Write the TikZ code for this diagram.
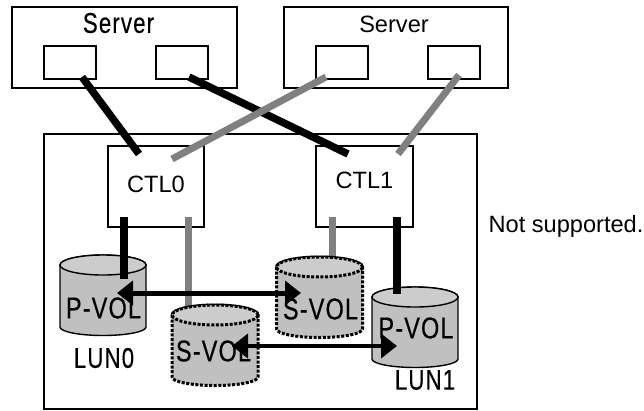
\documentclass[tikz,border=0pt]{standalone}
\usepackage{fontspec}
\setmainfont{Liberation Sans}
\newfontfamily\gothfont[FakeStretch=0.78,LetterSpace=4,FakeBold=0.35]{Liberation Sans}
\usetikzlibrary{arrows.meta}
\definecolor{linkgray}{HTML}{808080}
\definecolor{volbody}{HTML}{C0C0C0}
\definecolor{voltop}{HTML}{CCCCCC}
\tikzset{
    box/.style={draw,line width=1.3pt,rectangle,inner sep=0pt,minimum width=#1},
    port/.style={box=52pt,minimum height=33pt,line width=1.7pt},
    blacklink/.style={line width=7.5pt,black},
    graylink/.style={line width=7pt,linkgray},
    vol/.pic={
        \draw[pic actions,fill=volbody] (-43,-31) -- (-43,31)
            arc[start angle=180,end angle=360,x radius=43pt,y radius=8.5pt]
            -- (43,-31) arc[start angle=0,end angle=180,x radius=43pt,y radius=10pt];
        \draw[pic actions,fill=voltop] (0,-31) ellipse[x radius=43pt,y radius=10pt];
    },
    plainvol/.style={line width=1.4pt},
    dotvol/.style={line width=3pt,dash pattern=on 3pt off 1.6pt},
    vollabel/.style={font=\gothfont\fontsize{30}{30}\selectfont,inner sep=0pt},
    txt/.style={font=\fontsize{23.6}{24}\selectfont,inner sep=0pt},
    gothtxt/.style={font=\gothfont\fontsize{28.5}{28.5}\selectfont,inner sep=0pt},
    pair/.style={{Triangle[length=16pt,width=24pt]}-{Triangle[length=16pt,width=24pt]},line width=5pt}
}
\begin{document}
\begin{tikzpicture}[x=1pt,y=-1pt]
    \useasboundingbox (0,0) rectangle (644,410);

    \node[box=225pt,minimum height=81pt] (srv0) at (124.5,47.5) {};
    \node[box=224pt,minimum height=81pt] (srv1) at (396,47.5) {};
    \node[gothtxt] (srv0txt) at (118.5,23) {Server};
    \node[txt] (srv1txt) at (394,24.5) {Server};

    \node[port] (p0) at (70,62.5) {};
    \node[port] (p1) at (182,62.5) {};
    \node[port] (p2) at (342,62.5) {};
    \node[port] (p3) at (454,62.5) {};

    \node[box=433pt,minimum height=275pt] (stor) at (260.5,271.5) {};
    \node[box=96pt,minimum height=81pt,txt,text depth=5pt] (ctl0) at (156,186.5) {CTL0};
    \node[box=97pt,minimum height=81pt,txt,text depth=12pt] (ctl1) at (364.5,186.5) {CTL1};

    \coordinate (a0) at (82,77);
    \coordinate (b0) at (139,154);
    \coordinate (a1) at (189,77);
    \coordinate (b1) at (348,154);
    \coordinate (a2) at (326,77);
    \coordinate (b2) at (172,159);
    \coordinate (a3) at (459,75);
    \coordinate (b3) at (398,154);

    \coordinate (c0) at (124,217);
    \coordinate (d0) at (124,279);
    \coordinate (c1) at (188,217);
    \coordinate (d1) at (188,308);
    \coordinate (c2) at (332,217);
    \coordinate (d2) at (332,258);
    \coordinate (c3) at (397,217);
    \coordinate (d3) at (397,294);

    \draw[blacklink] (a0) -- (b0);
    \draw[blacklink] (a1) -- (b1);
    \draw[graylink] (a2) -- (b2);
    \draw[graylink] (a3) -- (b3);
    \draw[graylink] (c1) -- (d1);
    \draw[graylink] (c2) -- (d2);

    \pic[plainvol] (pvol0) at (103,296) {vol};
    \pic[dotvol] (svol0) at (215,346) {vol};
    \pic[dotvol] (svol1) at (319.5,298) {vol};
    \pic[plainvol] (pvol1) at (415,328) {vol};

    \draw[blacklink] (c0) -- (d0);
    \draw[blacklink] (c3) -- (d3);

    \node[vollabel] (pvol0txt) at (103.5,308) {P-VOL};
    \node[vollabel] (svol0txt) at (213.5,351) {S-VOL};
    \node[vollabel] (svol1txt) at (320.5,309) {S-VOL};
    \node[vollabel] (pvol1txt) at (416,328) {P-VOL};

    \node[gothtxt] (lun0) at (104,358) {LUN0};
    \node[gothtxt] (lun1) at (425,380) {LUN1};
    \node[txt] (note) at (566,226) {Not supported.};

    \coordinate (e0) at (117,293);
    \coordinate (f0) at (301,293);
    \coordinate (e1) at (232,346);
    \coordinate (f1) at (397,346);
    \draw[pair] (e0) -- (f0);
    \draw[pair,line width=4pt] (e1) -- (f1);
\end{tikzpicture}
\end{document}
